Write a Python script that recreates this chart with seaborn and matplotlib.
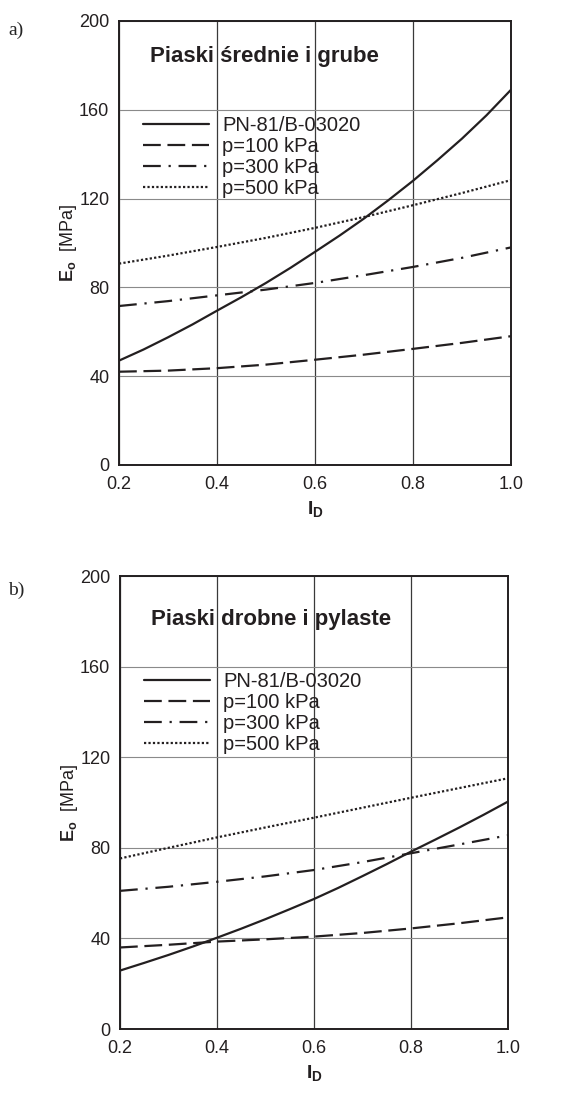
import pandas as pd
import seaborn as sns
import matplotlib.pyplot as plt

# relative density I_D
i_d = [0.2, 0.3, 0.4, 0.5, 0.6, 0.7, 0.8, 0.9, 1.0]
i_d_fine = [0.2, 0.25, 0.3, 0.35, 0.4, 0.45, 0.5, 0.55, 0.6,
            0.65, 0.7, 0.75, 0.8, 0.85, 0.9, 0.95, 1.0]

# a) Piaski srednie i grube
a_pn = [47, 52, 57.5, 63.3, 69.5, 75.6, 82, 88.8, 96,
        103.3, 111, 119.3, 128, 137.3, 147, 157.5, 169]
a_p100 = [42, 42.5, 43.6, 45.2, 47.4, 49.7, 52.3, 55, 58]
a_p300 = [71.6, 73.8, 76.4, 79, 82, 85.5, 89.2, 93.3, 98]
a_p500 = [90.7, 94.3, 98.2, 102.3, 106.8, 111.7, 117, 122.5, 128.3]

# b) Piaski drobne i pylaste
b_pn = [25.8, 29.2, 32.7, 36.4, 40.3, 44.3, 48.5, 52.9, 57.4,
        62.3, 67.5, 72.8, 78.3, 83.6, 89, 94.6, 100.4]
b_p100 = [36, 37.2, 38.6, 39.6, 40.8, 42.4, 44.4, 46.7, 49.3]
b_p300 = [61, 62.8, 65, 67.4, 70.2, 73.7, 77.6, 81.5, 85.5]
b_p500 = [75.3, 80, 84.6, 89, 93.3, 97.7, 102.1, 106.4, 110.7]

series_names = ["PN-81/B-03020", "p=100 kPa", "p=300 kPa", "p=500 kPa"]
x_ticks = [0.2, 0.4, 0.6, 0.8, 1.0]
x_ticklabels = ["0.2", "0.4", "0.6", "0.8", "1.0"]
y_ticks = [0, 40, 80, 120, 160, 200]

sns.set_style("white")
plt.rcParams['font.family'] = ['Liberation Sans', 'DejaVu Sans']
plt.rcParams['mathtext.fontset'] = 'custom'
plt.rcParams['mathtext.rm'] = 'Liberation Sans'
plt.rcParams['mathtext.bf'] = 'Liberation Sans:bold'

ink = '#231f20'
styles = ['-', (0, (8, 3)), (0, (8, 3.5, 1, 3.5)), (0, (1, 1))]

fig = plt.figure(figsize=(5.73, 11.11), dpi=100)
ax_a = fig.add_axes([0.2077, 0.5815, 0.684, 0.3996])
ax_b = fig.add_axes([0.2094, 0.0738, 0.677, 0.4077])

panels = [
    (ax_a, [a_pn, a_p100, a_p300, a_p500], "Piaski średnie i grube", "a)", 0.973, 0.919),
    (ax_b, [b_pn, b_p100, b_p300, b_p500], "Piaski drobne i pylaste", "b)", 0.469, 0.903),
]

for ax, vals, title, tag, tag_y, title_y in panels:
    for k, (name, v, ls) in enumerate(zip(series_names, vals, styles)):
        xs = i_d_fine if k == 0 else i_d
        df = pd.DataFrame({'I_D': xs, 'E0': v})
        sns.lineplot(data=df, x='I_D', y='E0', ax=ax, color=ink, lw=1.6,
                     linestyle=ls, label=name)
    ax.set_xlim(0.2, 1.0)
    ax.set_ylim(0, 200)
    ax.set_xticks(x_ticks)
    ax.set_xticklabels(x_ticklabels)
    ax.set_yticks(y_ticks)
    ax.grid(axis='y', color='#8a8a8a', lw=0.8)
    ax.grid(axis='x', color='#3a3a3a', lw=0.9)
    ax.tick_params(axis='y', direction='in', length=12, width=1.5, color=ink,
                   labelsize=13, pad=7, labelcolor=ink)
    ax.tick_params(axis='x', direction='in', length=7, width=1.5, color=ink,
                   labelsize=13, pad=8, labelcolor=ink)
    for s in ax.spines.values():
        s.set_color(ink)
        s.set_linewidth(1.4)
    ax.set_xlabel(r"$\mathbf{I_D}$", fontsize=14, labelpad=4, color=ink)
    ax.set_ylabel(r"$\mathbf{E_o}$  [MPa]", fontsize=13, labelpad=0, color=ink)
    ax.text(0.08, title_y, title, transform=ax.transAxes, fontsize=16,
            fontweight='bold', va='center', ha='left', color=ink)
    leg = ax.legend(loc='upper left', bbox_to_anchor=(0.04, 0.805), frameon=False,
                    fontsize=14.5, handlelength=3.3, handletextpad=0.65,
                    labelspacing=0.1, borderaxespad=0)
    for t in leg.get_texts():
        t.set_color(ink)
    fig.text(0.014, tag_y, tag, family='Liberation Serif', fontsize=14,
             va='center', ha='left')

fig.savefig("out.png", dpi=100)
